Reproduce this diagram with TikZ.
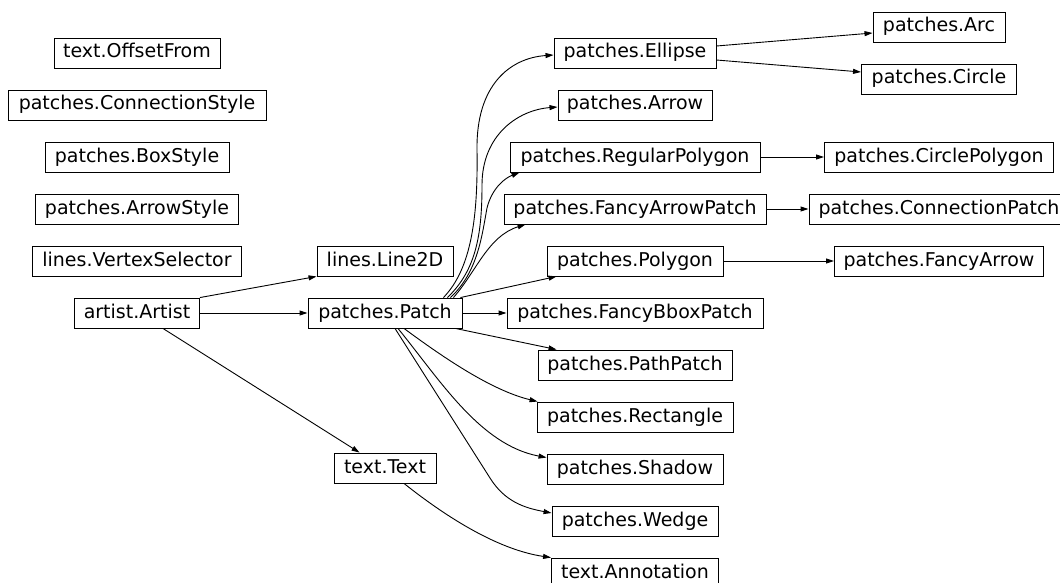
\documentclass[tikz,border=0pt]{standalone}
\usepackage{fontspec}
\setmainfont{DejaVu Sans}
\usetikzlibrary{arrows.meta}
\begin{document}
\begin{tikzpicture}[x=1pt,y=-1pt,
  box/.style={draw=black, line width=0.9pt, minimum height=30pt, inner xsep=0pt, inner ysep=0pt,
    text height=14pt, text depth=4pt, font=\fontsize{19}{22}\selectfont},
  edge/.style={draw=black, line width=0.9pt, -{Triangle[length=8pt,width=5pt]}}]
\useasboundingbox (0,0) rectangle (1060,583);
% column 1
\node[box, minimum width=166pt] (offset) at (137,53) {text.OffsetFrom};
\node[box, minimum width=258pt] (connstyle) at (137,105) {patches.ConnectionStyle};
\node[box, minimum width=184pt] (boxstyle) at (137,157) {patches.BoxStyle};
\node[box, minimum width=203pt] (arrowstyle) at (137,209) {patches.ArrowStyle};
\node[box, minimum width=209pt] (vertex) at (137,261) {lines.VertexSelector};
\node[box, minimum width=125pt] (artist) at (137,313) {artist.Artist};
% column 2
\node[box, minimum width=136pt] (line2d) at (385,261) {lines.Line2D};
\node[box, minimum width=154pt] (patch) at (385,313) {patches.Patch};
\node[box, minimum width=102pt] (text) at (385,468) {text.Text};
% column 3
\node[box, minimum width=162pt] (ellipse) at (635,53) {patches.Ellipse};
\node[box, minimum width=154pt] (arrow) at (635,105) {patches.Arrow};
\node[box, minimum width=250pt] (regpoly) at (635,157) {patches.RegularPolygon};
\node[box, minimum width=262pt] (fap) at (635,209) {patches.FancyArrowPatch};
\node[box, minimum width=176pt] (polygon) at (635,261) {patches.Polygon};
\node[box, minimum width=256pt] (fbbox) at (635,313) {patches.FancyBboxPatch};
\node[box, minimum width=194pt] (pathpatch) at (635,365) {patches.PathPatch};
\node[box, minimum width=196pt] (rect) at (635,417) {patches.Rectangle};
\node[box, minimum width=176pt] (shadow) at (635,469) {patches.Shadow};
\node[box, minimum width=166pt] (wedge) at (635,521) {patches.Wedge};
\node[box, minimum width=167pt] (annot) at (635,573) {text.Annotation};
% column 4
\node[box, minimum width=132pt] (arc) at (939,27) {patches.Arc};
\node[box, minimum width=155pt] (circle) at (939,79) {patches.Circle};
\node[box, minimum width=229pt] (circpoly) at (939,157) {patches.CirclePolygon};
\node[box, minimum width=260pt] (connpatch) at (939,209) {patches.ConnectionPatch};
\node[box, minimum width=209pt] (fancyarrow) at (939,261) {patches.FancyArrow};
% edges from artist
\draw[edge] (artist.north east) -- (line2d.south west);
\draw[edge] (artist.east) -- (patch.west);
\draw[edge] ([xshift=-37pt]artist.south east) -- ([xshift=26pt]text.north west);
% edges from patch
\draw[edge] ([xshift=-19pt]patch.north east) .. controls (472,268) and (478,215) .. (477,150)
  .. controls (476,85) and (510,58) .. ([yshift=-2pt]ellipse.west);
\draw[edge] ([xshift=-15pt]patch.north east) .. controls (476,270) and (482,235) .. (482,185)
  .. controls (482,135) and (518,110) .. ([yshift=-2pt]arrow.west);
\draw[edge] ([xshift=-12pt]patch.north east) .. controls (478,272) and (482,235) .. (487,208)
  .. controls (492,188) and (505,178) .. ([xshift=10pt]regpoly.south west);
\draw[edge] ([xshift=-9pt]patch.north east) .. controls (476,272) and (488,236) .. ([xshift=22pt]fap.south west);
\draw[edge] ([xshift=-2pt]patch.north east) -- ([xshift=10pt]polygon.south west);
\draw[edge] (patch.east) -- (fbbox.west);
\draw[edge] ([xshift=-7pt]patch.south east) -- ([xshift=19pt]pathpatch.north west);
\draw[edge] ([xshift=19pt]patch.south) .. controls (440,355) and (490,390) .. ([xshift=1pt]rect.north west);
\draw[edge] ([xshift=13pt]patch.south) .. controls (440,380) and (480,445) .. ([yshift=-4pt]shadow.north west);
\draw[edge] ([xshift=10pt]patch.south) -- (490,478) .. controls (505,502) and (525,508) .. ([yshift=8pt]wedge.west);
% other edges
\draw[edge] ([xshift=19pt]text.south) .. controls (450,520) and (500,550) .. (annot.north west);
\draw[edge] ([yshift=7pt]ellipse.east) -- ([yshift=-6pt]arc.west);
\draw[edge] ([yshift=-7pt]ellipse.east) -- ([yshift=7pt]circle.west);
\draw[edge] (regpoly.east) -- (circpoly.west);
\draw[edge] (fap.east) -- (connpatch.west);
\draw[edge] (polygon.east) -- (fancyarrow.west);
\end{tikzpicture}
\end{document}
